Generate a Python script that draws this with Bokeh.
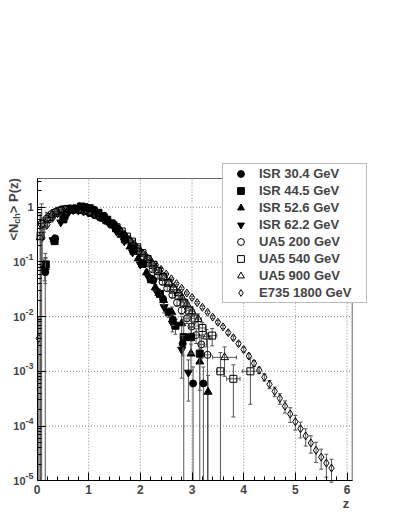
import math
from bokeh.plotting import figure
from bokeh.models import Range1d, FixedTicker, Label, Legend, LegendItem
from bokeh.embed import file_html
from bokeh.resources import INLINE

# ---------------- data ----------------
isr30_z = [0.16, 0.35, 0.54, 0.73, 0.92, 1.11, 1.30, 1.49, 1.68, 1.87, 2.06, 2.25, 2.44, 2.63, 2.82, 3.02, 3.22]
isr30_y = [0.065, 0.27, 0.66, 0.95, 1.02, 0.90, 0.70, 0.49, 0.31, 0.18, 0.095, 0.046, 0.021, 0.0088, 0.0032, 0.0006, 0.0006]
isr30_e = [1.2, 0.08, 0.04, 0.03, 0.03, 0.03, 0.03, 0.04, 0.05, 0.06, 0.08, 0.10, 0.15, 0.22, 0.40, 1.0, 1.0]

isr44_z = [0.17, 0.34, 0.51, 0.68, 0.85, 1.02, 1.19, 1.36, 1.53, 1.70, 1.87, 2.04, 2.21, 2.38, 2.55, 2.68, 2.84, 2.98, 3.15]
isr44_y = [0.09, 0.24, 0.60, 0.90, 1.03, 0.96, 0.79, 0.59, 0.41, 0.26, 0.16, 0.092, 0.048, 0.026, 0.012, 0.0068, 0.0042, 0.0042, 0.0021]
isr44_e = [0.3, 0.06, 0.04, 0.03, 0.03, 0.03, 0.03, 0.03, 0.04, 0.05, 0.06, 0.08, 0.10, 0.14, 0.20, 0.30, 1.0, 0.5, 1.0]

isr52_z = [0.16, 0.33, 0.49, 0.65, 0.82, 0.98, 1.14, 1.31, 1.47, 1.63, 1.80, 1.96, 2.12, 2.29, 2.45, 2.61, 2.80, 2.98, 3.15, 3.31]
isr52_y = [0.08, 0.26, 0.58, 0.88, 1.00, 0.97, 0.83, 0.64, 0.46, 0.31, 0.19, 0.115, 0.064, 0.034, 0.020, 0.012, 0.0075, 0.0021, 0.0015, 0.00042]
isr52_e = [0.5, 0.06, 0.04, 0.03, 0.03, 0.03, 0.03, 0.03, 0.04, 0.05, 0.06, 0.08, 0.10, 0.13, 0.18, 0.25, 0.35, 0.5, 0.7, 1.0]

isr62_z = [0.15, 0.31, 0.46, 0.62, 0.77, 0.92, 1.08, 1.23, 1.39, 1.54, 1.69, 1.85, 2.00, 2.16, 2.31, 2.46, 2.62, 2.80, 2.93]
isr62_y = [0.075, 0.25, 0.53, 0.83, 0.99, 1.00, 0.88, 0.70, 0.52, 0.36, 0.24, 0.15, 0.09, 0.052, 0.029, 0.015, 0.0075, 0.0025, 0.00095]
isr62_e = [0.4, 0.06, 0.04, 0.03, 0.03, 0.03, 0.03, 0.03, 0.04, 0.05, 0.06, 0.07, 0.09, 0.12, 0.16, 0.22, 0.30, 0.7, 0.7]

ua200_z = [0.09, 0.19, 0.28, 0.37, 0.47, 0.56, 0.65, 0.75, 0.84, 0.93, 1.03, 1.12, 1.21, 1.31, 1.40, 1.49, 1.59, 1.68,
           1.78, 1.87, 1.96, 2.06, 2.15, 2.24, 2.34, 2.43, 2.52, 2.62, 2.71, 2.80, 2.90, 2.99, 3.08, 3.18, 3.30]
ua200_y = [0.50, 0.62, 0.75, 0.84, 0.91, 0.94, 0.95, 0.94, 0.91, 0.87, 0.81, 0.75, 0.68, 0.60, 0.52, 0.45, 0.37, 0.30,
           0.24, 0.195, 0.155, 0.12, 0.094, 0.073, 0.056, 0.043, 0.033, 0.025, 0.018, 0.013, 0.0093, 0.0066, 0.0046, 0.0031, 0.0020]
ua200_e = [1.3, 0.3, 0.1, 0.06, 0.05, 0.04, 0.04, 0.04, 0.04, 0.04, 0.04, 0.04, 0.04, 0.04, 0.04, 0.05, 0.05, 0.05,
           0.06, 0.06, 0.07, 0.07, 0.08, 0.08, 0.09, 0.10, 0.11, 0.12, 0.14, 0.15, 0.20, 0.25, 0.30, 0.45, 1.0]
ua200_xe = [0] * 30 + [0.04, 0.04, 0.05, 0.05, 0.06]

ua540_z = [0.07, 0.14, 0.24, 0.34, 0.44, 0.54, 0.64, 0.74, 0.84, 0.94, 1.04, 1.14, 1.24, 1.34, 1.44, 1.54, 1.64, 1.74,
           1.84, 1.94, 2.04, 2.14, 2.24, 2.34, 2.44, 2.54, 2.64, 2.74, 2.84, 2.94, 3.05, 3.20, 3.39, 3.55, 3.80, 4.13]
ua540_y = [0.30, 0.50, 0.66, 0.78, 0.86, 0.91, 0.93, 0.92, 0.89, 0.85, 0.79, 0.73, 0.66, 0.58, 0.51, 0.43, 0.36, 0.29,
           0.235, 0.185, 0.145, 0.113, 0.088, 0.068, 0.053, 0.041, 0.031, 0.024, 0.018, 0.013, 0.0092, 0.0062, 0.0045, 0.0010, 0.00073, 0.0010]
ua540_e = [1.5, 0.3, 0.08, 0.05, 0.04, 0.04, 0.04, 0.04, 0.04, 0.04, 0.04, 0.04, 0.04, 0.04, 0.04, 0.05, 0.05, 0.05,
           0.06, 0.06, 0.07, 0.07, 0.08, 0.08, 0.09, 0.09, 0.10, 0.10, 0.12, 0.15, 0.20, 0.25, 0.35, 1.2, 0.8, 0.75]
ua540_xe = [0] * 28 + [0.05, 0.05, 0.06, 0.07, 0.09, 0.07, 0.13, 0.15]

ua900_z = [0.06, 0.12, 0.20, 0.28, 0.37, 0.45, 0.53, 0.62, 0.70, 0.79, 0.87, 0.96, 1.04, 1.12, 1.21, 1.29, 1.38, 1.46,
           1.55, 1.63, 1.71, 1.80, 1.88, 1.97, 2.05, 2.14, 2.22, 2.30, 2.39, 2.47, 2.56, 2.64, 2.73, 2.81, 2.90, 3.00,
           3.12, 3.28, 3.63]
ua900_y = [0.28, 0.44, 0.58, 0.70, 0.79, 0.86, 0.90, 0.92, 0.92, 0.90, 0.87, 0.83, 0.78, 0.73, 0.67, 0.61, 0.54, 0.48,
           0.42, 0.36, 0.30, 0.25, 0.21, 0.17, 0.14, 0.115, 0.095, 0.078, 0.064, 0.052, 0.042, 0.034, 0.027, 0.022,
           0.017, 0.0125, 0.009, 0.0043, 0.0018]
ua900_e = [1.5, 0.4, 0.1, 0.06, 0.05, 0.04, 0.04, 0.04, 0.04, 0.04, 0.04, 0.04, 0.04, 0.04, 0.04, 0.05, 0.05, 0.05,
           0.05, 0.05, 0.06, 0.06, 0.06, 0.07, 0.07, 0.07, 0.08, 0.08, 0.08, 0.09, 0.10, 0.10, 0.12, 0.14, 0.17, 0.20,
           0.25, 0.35, 0.55]
ua900_xe = [0] * 33 + [0.04, 0.04, 0.05, 0.06, 0.10, 0.23]

e735_z = [0.035, 0.1, 0.2, 0.3, 0.4, 0.5, 0.6, 0.7, 0.8, 0.9, 1.0, 1.1, 1.2, 1.3, 1.4, 1.5, 1.6, 1.7, 1.8, 1.9,
          2.0, 2.1, 2.2, 2.3, 2.4, 2.5, 2.6, 2.7, 2.8, 2.9, 3.0, 3.1, 3.2, 3.3, 3.4, 3.5, 3.6, 3.7, 3.8, 3.9,
          4.0, 4.1, 4.2, 4.3, 4.4, 4.5, 4.6, 4.7, 4.8, 4.9, 5.0, 5.1, 5.2, 5.3, 5.4, 5.5, 5.6, 5.7]
e735_y = [0.004, 0.28, 0.48, 0.63, 0.76, 0.83, 0.87, 0.87, 0.85, 0.82, 0.78, 0.72, 0.66, 0.61, 0.54, 0.47, 0.39, 0.32,
          0.25, 0.20, 0.162, 0.132, 0.107, 0.089, 0.073, 0.060, 0.049, 0.040, 0.033, 0.027, 0.0224, 0.018, 0.0148,
          0.012, 0.0098, 0.0079, 0.0065, 0.0051, 0.0041, 0.0032, 0.0025, 0.0019, 0.0014, 0.00105, 0.00078, 0.00058,
          0.00043, 0.00032, 0.00023, 0.000166, 0.00012, 0.000089, 0.000066, 0.000049, 0.000036, 0.000027, 0.000021, 0.000017]
e735_e = [1.5, 0.6, 0.1, 0.05, 0.04, 0.03, 0.03, 0.03, 0.03, 0.03, 0.03, 0.03, 0.03, 0.03, 0.03, 0.03, 0.03, 0.03,
          0.03, 0.03, 0.03, 0.03, 0.03, 0.04, 0.04, 0.04, 0.04, 0.04, 0.05, 0.05, 0.05, 0.05, 0.06, 0.06, 0.06, 0.07,
          0.07, 0.08, 0.08, 0.09, 0.10, 0.10, 0.12, 0.13, 0.15, 0.17, 0.20, 0.22, 0.25, 0.30, 0.30, 0.32, 0.35, 0.35,
          0.40, 0.40, 0.45, 0.45]

legend_labels = ["ISR 30.4 GeV", "ISR 44.5 GeV", "ISR 52.6 GeV", "ISR 62.2 GeV",
                 "UA5 200 GeV", "UA5 540 GeV", "UA5 900 GeV", "E735 1800 GeV"]

x_major = [0, 1, 2, 3, 4, 5, 6]
y_decades = [-5, -4, -3, -2, -1, 0]

# ---------------- layout constants ----------------
FONT = "Liberation Sans"
ERR = "#555555"
W, H = 398, 514
XMIN, XMAX = 0.0, 6.1          # visible axis range
YMIN, YMAX = 1e-5, 3.35
FL, FT = 36.5, 178.0            # pixel position of the axes' left / top edge
FB = 480.2                      # pixel position of the x axis
PXU = (351.7 - FL) / (XMAX - XMIN)                     # pixels per unit of z
PXD = (FB - FT) / (math.log10(YMAX) - math.log10(YMIN))  # pixels per decade
x_lo = XMIN - FL / PXU
x_hi = XMIN + (W - FL) / PXU
y_hi = 10 ** (math.log10(YMAX) + FT / PXD)
y_lo = 10 ** (math.log10(YMIN) - (H - FB) / PXD)

p = figure(width=W, height=H, output_backend="svg", toolbar_location=None,
           y_axis_type="log", x_range=Range1d(x_lo, x_hi), y_range=Range1d(y_lo, y_hi),
           min_border_left=0, min_border_right=0, min_border_top=0, min_border_bottom=0)
p.background_fill_color = "white"
p.border_fill_color = "white"
p.outline_line_color = None
p.xgrid.visible = False
p.ygrid.visible = False

p.xaxis.ticker = FixedTicker(ticks=x_major, minor_ticks=[i / 5 for i in range(1, 31)])
p.yaxis.ticker = FixedTicker(ticks=[10.0 ** k for k in y_decades],
                             minor_ticks=[m * 10.0 ** k for k in range(-5, 0) for m in range(2, 10)] + [2.0, 3.0])
p.xaxis.fixed_location = YMIN
p.yaxis.fixed_location = XMIN
p.xaxis.bounds = (XMIN, XMAX)
p.yaxis.bounds = (YMIN, YMAX)
for ax in (p.xaxis[0], p.yaxis[0]):
    ax.axis_line_color = "black"
    ax.major_tick_in = 8
    ax.major_tick_out = 0
    ax.minor_tick_in = 4
    ax.minor_tick_out = 0
    ax.major_tick_line_color = "black"
    ax.minor_tick_line_color = "black"
p.xaxis.major_label_text_font = FONT
p.xaxis.major_label_text_font_style = "bold"
p.xaxis.major_label_text_font_size = "12px"
p.xaxis.major_label_standoff = 4
p.yaxis.major_label_text_font_size = "8px"
p.yaxis.major_label_text_alpha = 0

# dotted grid at the major ticks, and the grey top/right edges of the frame
gx = [v for v in x_major if v > XMIN]
p.segment(x0=gx, y0=YMIN, x1=gx, y1=YMAX, line_color="#888888", line_dash="1 2", line_width=1)
gy = [10.0 ** k for k in y_decades if k > -5]
p.segment(x0=XMIN, y0=gy, x1=XMAX, y1=gy, line_color="#888888", line_dash="1 2", line_width=1)
p.segment(x0=[XMIN, XMAX], y0=[YMAX, YMIN], x1=[XMAX, XMAX], y1=[YMAX, YMAX], line_color="#666666", line_width=1)


def draw(z, y, r, xe, marker, size, filled):
    lo = [v * (1 - e) if e < 1 else YMIN * 0.99 for v, e in zip(y, r)]
    hi = [v * (1 + e) for v, e in zip(y, r)]
    p.segment(x0=z, y0=lo, x1=z, y1=hi, line_color=ERR, line_width=1)
    p.scatter(x=z, y=hi, marker="dash", size=4, line_color=ERR, line_width=1)
    lz = [a for a, e in zip(z, r) if e < 1]
    ly = [b for b, e in zip(lo, r) if e < 1]
    p.scatter(x=lz, y=ly, marker="dash", size=4, line_color=ERR, line_width=1)
    if xe is not None:
        hz = [a for a, w in zip(z, xe) if w > 0]
        hw = [w for w in xe if w > 0]
        hy = [b for b, w in zip(y, xe) if w > 0]
        x0 = [a - w for a, w in zip(hz, hw)]
        x1 = [a + w for a, w in zip(hz, hw)]
        p.segment(x0=x0, y0=hy, x1=x1, y1=hy, line_color=ERR, line_width=1)
        p.scatter(x=x0 + x1, y=hy + hy, marker="dash", angle=math.pi / 2, size=4, line_color=ERR)
    return p.scatter(x=z, y=y, marker=marker, size=size,
                     fill_color="black" if filled else None, line_color="black", line_width=1)


r_e735 = draw(e735_z, e735_y, e735_e, None, "diamond", 8, False)
r_u900 = draw(ua900_z, ua900_y, ua900_e, ua900_xe, "triangle", 8, False)
r_u540 = draw(ua540_z, ua540_y, ua540_e, ua540_xe, "square", 7, False)
r_u200 = draw(ua200_z, ua200_y, ua200_e, ua200_xe, "circle", 7, False)
r_i62 = draw(isr62_z, isr62_y, isr62_e, None, "inverted_triangle", 8, True)
r_i52 = draw(isr52_z, isr52_y, isr52_e, None, "triangle", 8, True)
r_i44 = draw(isr44_z, isr44_y, isr44_e, None, "square", 7, True)
r_i30 = draw(isr30_z, isr30_y, isr30_e, None, "circle", 7, True)

rends = [r_i30, r_i44, r_i52, r_i62, r_u200, r_u540, r_u900, r_e735]
legend = Legend(items=[LegendItem(label=l, renderers=[r]) for l, r in zip(legend_labels, rends)],
                location=(222, H - 303), padding=1, spacing=0, margin=0,
                glyph_width=33, glyph_height=17, label_height=17, label_width=106, label_standoff=2,
                label_text_font=FONT, label_text_font_style="bold", label_text_font_size="13px",
                border_line_color="#777777", border_line_width=1, background_fill_color="white",
                background_fill_alpha=1)
p.add_layout(legend)

# y tick labels 10^k
for k in y_decades[:-1]:
    p.add_layout(Label(x=XMIN, y=10.0 ** k, x_offset=-11.5, y_offset=0, text="10", text_align="right",
                       text_baseline="middle", text_font=FONT, text_font_style="bold", text_font_size="11px"))
    p.add_layout(Label(x=XMIN, y=10.0 ** k, x_offset=-11.5, y_offset=5, text=str(k), text_align="left",
                       text_baseline="middle", text_font=FONT, text_font_style="bold", text_font_size="9px"))
p.add_layout(Label(x=XMIN, y=1.0, x_offset=-3.5, text="1", text_align="right", text_baseline="middle",
                   text_font=FONT, text_font_style="bold", text_font_size="11px"))

# axis titles
p.add_layout(Label(x=5.98, y=YMIN, y_offset=-23, text="z", text_align="center", text_baseline="middle",
                   text_font=FONT, text_font_style="bold", text_font_size="13px"))
p.add_layout(Label(x=XMIN, y=1.0, x_offset=-23.5, y_offset=-33.3, angle=math.pi / 2, text="<N",
                   text_align="left", text_baseline="middle",
                   text_font=FONT, text_font_style="bold", text_font_size="13px"))
p.add_layout(Label(x=XMIN, y=1.0, x_offset=-20.5, y_offset=-16.5, angle=math.pi / 2, text="ch",
                   text_align="left", text_baseline="middle",
                   text_font=FONT, text_font_style="bold", text_font_size="9px"))
p.add_layout(Label(x=XMIN, y=1.0, x_offset=-23.5, y_offset=-6, angle=math.pi / 2, text="> P(z)",
                   text_align="left", text_baseline="middle",
                   text_font=FONT, text_font_style="bold", text_font_size="13px"))

open("out.html", "w").write(file_html(p, INLINE))
